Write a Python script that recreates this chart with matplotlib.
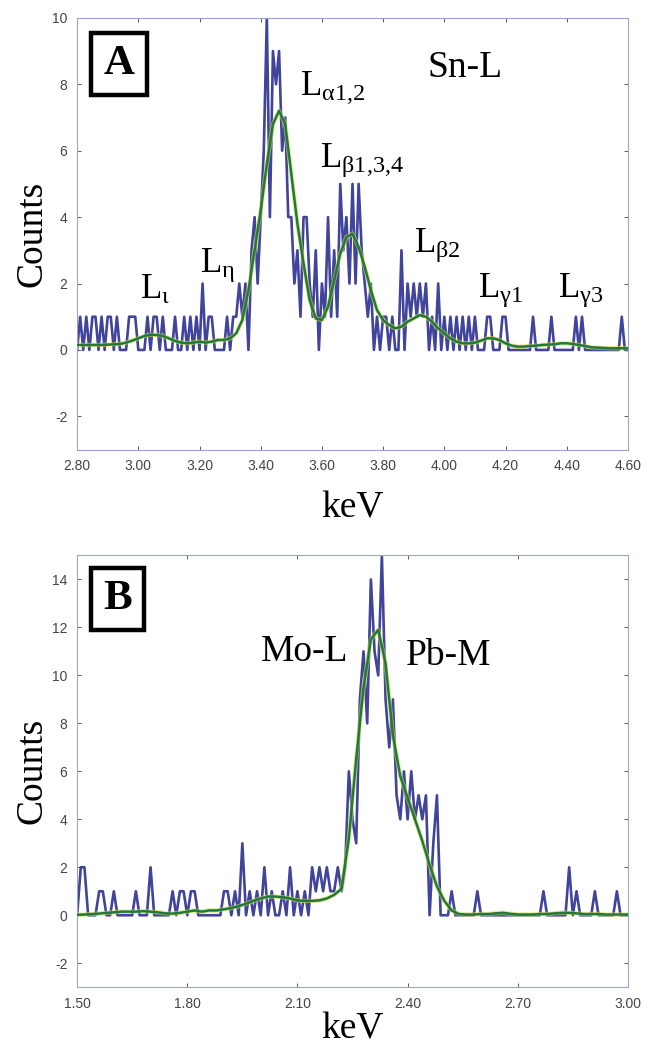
import numpy as np
import matplotlib
matplotlib.use("Agg")
import matplotlib.pyplot as plt
import matplotlib.patheffects as pe

plt.rcParams['mathtext.fontset'] = 'custom'
plt.rcParams['mathtext.rm'] = 'Liberation Serif'
plt.rcParams['mathtext.it'] = 'Liberation Serif'
plt.rcParams['axes.unicode_minus'] = False

# ---- panel A data (Sn-L), 0.01 keV channels from 2.80 to 4.60
a_start, a_end = 2.80, 4.60
a_counts = [
    0, 1, 0, 1, 0, 1, 1, 0, 1, 0, 1, 1, 0, 1, 0, 0, 0, 1, 1, 1,   # 2.80-2.99
    0, 0, 0, 1, 0, 1, 1, 0, 1, 0, 0, 0, 1, 0, 0, 1, 0, 1, 0, 1,   # 3.00-3.19
    0, 2, 0, 1, 1, 0, 0, 0, 0, 1, 0, 1, 1, 2, 1, 2, 0, 3, 4, 2,   # 3.20-3.39
    4, 6, 10, 4, 9, 8, 9, 6, 7, 4, 4, 2, 3, 1, 4, 4, 2, 1, 3, 0,  # 3.40-3.59
    2, 1, 4, 1, 3, 1, 5, 3, 4, 2, 5, 2, 5, 3, 2, 1, 2, 0, 1, 0,   # 3.60-3.79
    1, 1, 0, 1, 0, 0, 3, 0, 2, 1, 2, 1, 2, 1, 2, 0, 1, 0, 2, 0,   # 3.80-3.99
    1, 0, 1, 0, 1, 0, 1, 0, 1, 0, 1, 0, 0, 0, 1, 1, 0, 0, 0, 1,   # 4.00-4.19
    1, 0, 0, 0, 0, 0, 0, 0, 0, 1, 0, 0, 0, 0, 0, 1, 0, 0, 0, 0,   # 4.20-4.39
    0, 0, 0, 1, 0, 1, 0, 0, 0, 0, 0, 0, 0, 0, 0, 0, 0, 0, 1, 0,   # 4.40-4.59
    0,                                                            # 4.60
]
# smoothed curve, every 0.02 keV
a_smooth = [
    0.15, 0.15, 0.15, 0.15, 0.15, 0.16, 0.17, 0.18, 0.22, 0.28,
    0.35, 0.42, 0.46, 0.45, 0.42, 0.35, 0.27, 0.22, 0.20, 0.22,
    0.25, 0.22, 0.25, 0.30, 0.30, 0.35, 0.50, 0.90, 1.80, 3.00,
    4.20, 5.60, 6.80, 7.20, 6.80, 5.30, 3.80, 2.60, 1.50, 0.95,
    0.90, 1.30, 2.10, 2.90, 3.40, 3.50, 3.10, 2.50, 1.80, 1.20,
    0.90, 0.75, 0.65, 0.70, 0.85, 0.95, 1.05, 1.00, 0.85, 0.65,
    0.50, 0.35, 0.25, 0.20, 0.20, 0.22, 0.28, 0.35, 0.35, 0.30,
    0.20, 0.13, 0.10, 0.10, 0.12, 0.13, 0.15, 0.16, 0.17, 0.20,
    0.20, 0.18, 0.15, 0.12, 0.08, 0.07, 0.06, 0.05, 0.05, 0.05,
    0.05,
]
a_xticks = [2.80, 3.00, 3.20, 3.40, 3.60, 3.80, 4.00, 4.20, 4.40, 4.60]
a_yticks = [-2, 0, 2, 4, 6, 8, 10]

# ---- panel B data (Mo-L / Pb-M), 0.01 keV channels from 1.50 to 3.00
b_start, b_end = 1.50, 3.00
b_counts = [
    0, 2, 2, 0, 0, 0, 1, 1, 0, 0, 1, 0, 0, 0, 0, 0, 1, 0, 0, 0,   # 1.50-1.69
    2, 0, 0, 0, 0, 0, 1, 0, 1, 1, 0, 1, 1, 0, 0, 0, 0, 0, 0, 0,   # 1.70-1.89
    1, 1, 0, 1, 0, 3, 0, 1, 0, 1, 0, 2, 0, 1, 0, 0, 1, 0, 2, 0,   # 1.90-2.09
    1, 0, 1, 0, 2, 1, 2, 1, 2, 1, 1, 2, 1, 2, 6, 4, 3, 9, 11, 8,  # 2.10-2.29
    14, 11, 10, 15, 9, 7, 9, 5, 4, 6, 4, 6, 4, 5, 4, 5, 0, 3, 5, 0,  # 2.30-2.49
    0, 0, 1, 0, 0, 0, 0, 0, 0, 1, 0, 0, 0, 0, 0, 0, 0, 0, 0, 0,   # 2.50-2.69
    0, 0, 0, 0, 0, 0, 0, 1, 0, 0, 0, 0, 0, 0, 2, 0, 1, 0, 0, 0,   # 2.70-2.89
    0, 1, 0, 0, 0, 0, 0, 1, 0, 0,                                 # 2.90-2.99
    0,                                                            # 3.00
]
b_smooth = [
    0.02, 0.03, 0.05, 0.07, 0.10, 0.12, 0.15, 0.15, 0.15, 0.17,
    0.15, 0.12, 0.08, 0.07, 0.10, 0.15, 0.20, 0.15, 0.20, 0.20,
    0.25, 0.30, 0.38, 0.48, 0.60, 0.70, 0.78, 0.78, 0.75, 0.70,
    0.62, 0.60, 0.60, 0.62, 0.70, 0.85, 1.10, 3.20, 6.50, 9.50,
    11.5, 11.9, 10.5, 7.50, 5.80, 4.90, 4.00, 3.10, 2.10, 1.20,
    0.60, 0.20, 0.05, 0.03, 0.03, 0.05, 0.05, 0.08, 0.10, 0.06,
    0.03, 0.03, 0.03, 0.05, 0.05, 0.08, 0.10, 0.10, 0.08, 0.05,
    0.05, 0.05, 0.03, 0.03, 0.03, 0.03,
]
b_xticks = [1.50, 1.80, 2.10, 2.40, 2.70, 3.00]
b_yticks = [-2, 0, 2, 4, 6, 8, 10, 12, 14]

blue = '#2b2f8f'
green = '#1e7a3c'
serif = 'Liberation Serif'

fig = plt.figure(figsize=(6.48, 10.48), dpi=100)
axA = fig.add_axes([0.119, 0.571, 0.850, 0.412])
axB = fig.add_axes([0.119, 0.058, 0.850, 0.412])


def draw_panel(ax, start, end, counts, smooth, xticks, yticks, ylim, xpad):
    x = np.linspace(start, end, len(counts))
    xs = np.linspace(start, end, len(smooth))
    ax.plot(x, counts, color=blue, lw=1.9, alpha=0.9, zorder=2)
    ax.plot(xs, smooth, color='#d8d84a', lw=3.2, alpha=0.6, zorder=3)
    ax.plot(xs, smooth, color=green, lw=1.8, zorder=4)
    ax.set_xlim(start, end)
    ax.set_ylim(*ylim)
    ax.set_xticks(xticks)
    ax.set_xticklabels([f"{t:.2f}" for t in xticks])
    ax.set_yticks(yticks)
    ax.tick_params(direction='in', length=3, width=0.6, labelsize=10,
                   colors='#444444', top=True, right=True, pad=7)
    for lbl in ax.get_xticklabels() + ax.get_yticklabels():
        lbl.set_family('Liberation Sans')
    for s in ax.spines.values():
        s.set_color('#9aa4c8')
        s.set_linewidth(0.8)
    ax.set_ylabel('Counts', fontsize=27, family=serif, labelpad=2)
    ax.set_xlabel('keV', fontsize=27, family=serif, labelpad=xpad)


draw_panel(axA, a_start, a_end, a_counts, a_smooth, a_xticks, a_yticks, (-3, 10), 13)
draw_panel(axB, b_start, b_end, b_counts, b_smooth, b_xticks, b_yticks, (-3, 15), 1)

box = dict(boxstyle='square,pad=0.28', fc='white', ec='black', lw=3.2,
           path_effects=[pe.withSimplePatchShadow(offset=(2, -2), shadow_rgbFace='#888888')])
axA.text(2.937, 8.62, 'A', fontsize=31, family=serif, weight='bold',
         ha='center', va='center', bbox=box, zorder=6)
axB.text(1.609, 13.2, 'B', fontsize=31, family=serif, weight='bold',
         ha='center', va='center', bbox=box, zorder=6)

lab = dict(fontsize=25, family=serif, ha='left', va='center', zorder=6)
axA.text(4.067, 8.5, 'Sn-L', fontsize=27, family=serif, ha='center', va='center')
axA.text(3.53, 7.9, r'L$_{\alpha 1{,}2}$', **lab)
axA.text(3.594, 5.7, r'L$_{\beta 1{,}3{,}4}$', **lab)
axA.text(3.90, 3.15, r'L$_{\beta 2}$', **lab)
axA.text(4.11, 1.8, r'L$_{\gamma 1}$', **lab)
axA.text(4.37, 1.8, r'L$_{\gamma 3}$', **lab)
axA.text(3.006, 1.8, r'L$_{\iota}$', **lab)
axA.text(3.20, 2.55, r'L$_{\eta}$', **lab)

axB.text(2.12, 11.0, 'Mo-L', fontsize=27, family=serif, ha='center', va='center')
axB.text(2.513, 10.8, 'Pb-M', fontsize=27, family=serif, ha='center', va='center')

fig.savefig('out.png', dpi=100)
